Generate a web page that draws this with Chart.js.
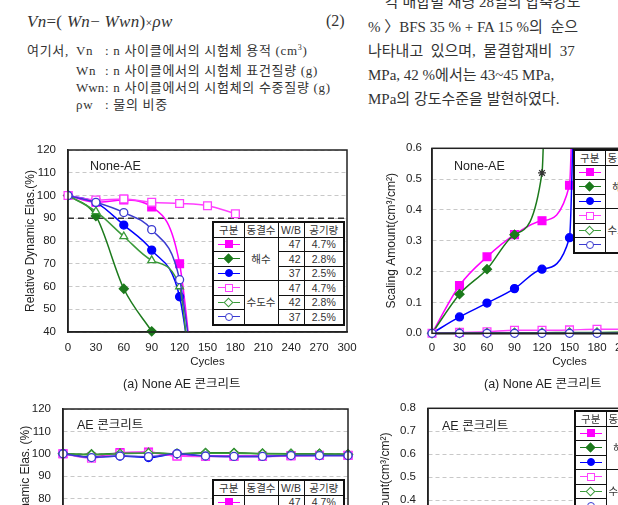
<!DOCTYPE html>
<html>
<head>
<meta charset="utf-8">
<script src="https://cdn.jsdelivr.net/npm/chart.js@4.4.1/dist/chart.umd.min.js"></script>
<style>
html, body { margin: 0; padding: 0; width: 618px; height: 505px; overflow: hidden; background: #fff; }
body { position: relative; }
.t { position: absolute; white-space: nowrap; color: #333; line-height: 1; }
.ser { font-family: 'Liberation Serif', 'Noto Sans CJK KR', serif; }
.row { font-size: 13px; letter-spacing: 0.7px; }
.san { font-family: 'Liberation Sans', 'Noto Sans CJK KR', sans-serif; color: #222; }
.box { position: absolute; width: 360px; height: 240px; }
table.lg { position: absolute; width: 131px; border-collapse: collapse; background: #fff; border: 2px solid #111;
  font: 10.5px 'Liberation Sans', 'Noto Sans CJK KR', sans-serif; color: #333; table-layout: fixed; }
table.lg td, table.lg th { border: 1.3px solid #111; height: 13.5px; padding: 0; text-align: center; font-weight: normal; line-height: 1; white-space: nowrap; overflow: hidden; }
table.lg td.r { text-align: right; padding-right: 3px; }
.mk { position: relative; display: block; height: 13px; }
.mk i { position: absolute; left: 4px; right: 4px; top: 6px; height: 1px; }
.mk b { position: absolute; left: 50%; top: 6.5px; box-sizing: border-box; width: 8px; height: 8px; margin: -4px 0 0 -4px; }
.mk b.ci { border-radius: 50%; }
.mk b.di { width: 7px; height: 7px; margin: -3.5px 0 0 -3.5px; transform: rotate(45deg); }
</style>
</head>
<body>

<!-- text above the figures -->
<div class="t ser" style="left:27px;top:13px;font-size:17px;letter-spacing:0.3px"><i>Vn</i>=( <i>Wn</i>− <i>Wwn</i>)<span style="font-size:12px">×</span><i>ρw</i></div>
<div class="t ser" style="left:326px;top:13px;font-size:16px">(2)</div>

<div class="t ser row" style="left:27px;top:44px">여기서,</div>
<div class="t ser row" style="left:76px;top:44px">Vn</div>
<div class="t ser row" style="left:105px;top:44px">: n 사이클에서의 시험체 용적 (cm<sup style="font-size:8px">3</sup>)</div>
<div class="t ser row" style="left:76px;top:64px">Wn</div>
<div class="t ser row" style="left:105px;top:64px">: n 사이클에서의 시험체 표건질량 (g)</div>
<div class="t ser row" style="left:76px;top:81px;letter-spacing:0">Wwn</div>
<div class="t ser row" style="left:105px;top:81px">: n 사이클에서의 시험체의 수중질량 (g)</div>
<div class="t ser row" style="left:76px;top:98px">ρw</div>
<div class="t ser row" style="left:105px;top:98px">: 물의 비중</div>

<div class="t ser" style="left:385px;top:-5px;font-size:15px">각 배합별 재령 28일의 압축강도</div>
<div class="t ser" style="left:368px;top:20px;font-size:15px">% 〉BFS 35 % + FA 15 %의&nbsp; 순으</div>
<div class="t ser" style="left:368px;top:44px;font-size:15px">나타내고&nbsp; 있으며,&nbsp; 물결합재비&nbsp; 37</div>
<div class="t ser" style="left:368px;top:68px;font-size:15px">MPa, 42 %에서는 43~45 MPa,</div>
<div class="t ser" style="left:368px;top:92px;font-size:15px">MPa의 강도수준을 발현하였다.</div>

<!-- figures -->
<div class="box" style="left:0px;top:140px"><canvas id="c1" width="360" height="240"></canvas></div>
<div class="box" style="left:370px;top:138px"><canvas id="c2" width="360" height="240"></canvas></div>
<div class="box" style="left:0px;top:399px"><canvas id="c3" width="360" height="240"></canvas></div>
<div class="box" style="left:366px;top:398px"><canvas id="c4" width="360" height="240"></canvas></div>

<div class="t san" style="left:90px;top:160px;font-size:12.5px">None-AE</div>
<div class="t san" style="left:454px;top:160px;font-size:12.5px">None-AE</div>
<div class="t san" style="left:77px;top:419px;font-size:12.5px">AE 콘크리트</div>
<div class="t san" style="left:442px;top:420px;font-size:12.5px">AE 콘크리트</div>

<div class="t san" style="left:123px;top:378px;font-size:12.5px">(a) None AE 콘크리트</div>
<div class="t san" style="left:484px;top:378px;font-size:12.5px">(a) None AE 콘크리트</div>

<script>
// freeze-thaw cycles (x axis)
const cycles = [0, 30, 60, 90, 120, 150, 180, 210, 240, 270, 300];

// legend table rows: 구분 / 동결수 / W/B / 공기량
const waterTypes = ['해수', '수도수'];
const wbRatios = ['47', '42', '37'];
const airContents = ['4.7%', '2.8%', '2.5%'];

// (a) None-AE : relative dynamic modulus (%)
const noneRdSea47 = [100, 97, 98, 95, 70];
const noneRdSea42 = [100, 91, 59, 40.3];
const noneRdSea37 = [100, 97, 87, 76, 55.5];
const noneRdTap47 = [100, 98, 98.5, 97, 96.5, 95.5, 92];
const noneRdTap42 = [100, 93, 82, 71.5, 60];
const noneRdTap37 = [100, 97, 92.5, 85, 63];
// where a failed specimen's curve leaves the plot [cycle, value]
const noneRdDrop = [[134, 22], null, [135, 15], null, [132, 18], [135, 20]];
const rdLimit = 90;

// (a) None-AE : scaling amount (cm3/cm2)
const noneScSea47 = [0, 0.155, 0.248, 0.32, 0.365, 0.48];
const noneScSea42 = [0, 0.127, 0.208, 0.32, 0.52];
const noneScSea37 = [0, 0.053, 0.098, 0.145, 0.208, 0.31];
const noneScTap47 = [0, 0.003, 0.005, 0.01, 0.01, 0.011, 0.013, 0.013, 0.014, 0.014, 0.015];
const noneScTap42 = [0, 0.001, 0.001, 0.002, 0.002, 0.003, 0.003, 0.004, 0.004, 0.005, 0.005];
const noneScTap37 = [0, 0, 0, 0, 0, 0, 0, 0, 0, 0, 0];
const noneScDrop = [[158, 1.6], [126, 1.2], [157, 1.1], null, null, null];

// AE concrete : relative dynamic modulus (%)
const aeRdSea47 = [100, 98.5, 100.5, 100.8, 99, 99, 99, 99, 99.2, 99.3, 99.3];
const aeRdSea42 = [100, 99.8, 100.2, 100.5, 100, 100.4, 100.4, 100.1, 100, 100, 99.8];
const aeRdSea37 = [100, 98.5, 99, 98.3, 100, 99, 98.8, 98.8, 99.2, 99.2, 99.2];
const aeRdTap47 = [100, 98, 100.2, 100.3, 99, 98.8, 98.8, 98.8, 99, 99.2, 99.2];
const aeRdTap42 = [100, 99.5, 100, 100.3, 100, 100.2, 100.2, 100, 99.9, 99.9, 99.7];
const aeRdTap37 = [100, 98.3, 99, 98.7, 100, 99, 98.8, 98.8, 99.2, 99.2, 99.2];

// AE concrete : scaling amount (cm3/cm2) - below the visible part of the page
const aeScSea47 = [0, 0.004, 0.01, 0.018, 0.025, 0.03, 0.041, 0.05, 0.056, 0.064, 0.07];
const aeScSea42 = [0, 0.003, 0.008, 0.012, 0.02, 0.026, 0.031, 0.037, 0.044, 0.05, 0.055];
const aeScSea37 = [0, 0.002, 0.005, 0.01, 0.013, 0.018, 0.022, 0.027, 0.031, 0.036, 0.04];
const aeScTap47 = [0, 0.001, 0.002, 0.003, 0.004, 0.005, 0.006, 0.006, 0.007, 0.008, 0.009];
const aeScTap42 = [0, 0.001, 0.001, 0.002, 0.003, 0.003, 0.004, 0.004, 0.005, 0.005, 0.006];
const aeScTap37 = [0, 0, 0.001, 0.001, 0.001, 0.002, 0.002, 0.002, 0.003, 0.003, 0.003];

// marker / line style for sea 47,42,37 then tap 47,42,37
const seriesStyle = [
    { color: '#ff00ff', fill: '#ff00ff', shape: 'rect', css: 'sq', r: 5.5 },
    { color: '#1c7a1c', fill: '#1c7a1c', shape: 'rectRot', css: 'di', r: 4.5 },
    { color: '#0000ff', fill: '#0000ff', shape: 'circle', css: 'ci', r: 4 },
    { color: '#ff40ff', fill: '#ffffff', shape: 'rect', css: 'sq', r: 5.5 },
    { color: '#3a9a3a', fill: '#ffffff', shape: 'rectRot', css: 'di', r: 4.5 },
    { color: '#3a3ad0', fill: '#ffffff', shape: 'circle', css: 'ci', r: 4 },
];

Chart.defaults.font.family = "'Liberation Sans', Arial, sans-serif";
Chart.defaults.font.size = 11.5;
Chart.defaults.color = '#222';
Chart.defaults.animation = false;

// black box round the plot area
const framePlugin = {
    id: 'frame',
    afterDatasetsDraw(chart) {
        const a = chart.chartArea;
        const ctx = chart.ctx;
        ctx.save();
        ctx.strokeStyle = '#222';
        ctx.lineWidth = 1.5;
        ctx.strokeRect(a.left, a.top, a.right - a.left, a.bottom - a.top);
        ctx.restore();
    }
};

function makeSeries(values, drop, i, shape, special) {
    const st = seriesStyle[i];
    const pts = values.map((v, k) => ({ x: cycles[k], y: v }));
    if (drop) pts.push({ x: drop[0], y: drop[1] });
    const ds = {
        data: pts,
        borderColor: st.color,
        backgroundColor: st.fill,
        borderWidth: 1.5,
        pointStyle: pts.map(() => shape || st.shape),
        pointRadius: pts.map((p, k) => k < values.length ? st.r : 0),
        pointBorderColor: pts.map(() => st.color),
        pointBackgroundColor: pts.map(() => st.fill),
        pointBorderWidth: 1.3,
        cubicInterpolationMode: 'monotone',
        order: 10 - i
    };
    if (!drop) ds.clip = false;
    if (special) special(ds);
    return ds;
}

// o.plot = wanted plot box inside the canvas [left, top, right, bottom]
// tick label gaps come from invisible tick marks so they do not push the plot box
function makeChart(id, datasets, o) {
    const [pl, pt, pr, pb] = o.plot;
    new Chart(document.getElementById(id), {
        type: 'line',
        data: { datasets: datasets },
        options: {
            responsive: false,
            layout: { padding: { left: 0, top: pt, right: 360 - pr, bottom: 0 } },
            plugins: { legend: { display: false }, tooltip: { enabled: false } },
            scales: {
                x: {
                    type: 'linear', min: 0, max: 300,
                    ticks: { stepSize: 30, padding: 0 },
                    grid: { color: 'transparent', drawTicks: true, tickLength: o.xGap, tickColor: 'transparent' },
                    border: { color: '#222', width: 1.5 },
                    title: { display: true, text: 'Cycles', font: { size: 11.5 }, padding: { top: 0, bottom: o.xTitlePad } },
                    afterFit(s) { s.height = 240 - pb; }
                },
                y: {
                    min: o.yMin, max: o.yMax,
                    ticks: { stepSize: o.yStep, padding: 0, callback: o.yFmt },
                    grid: { color: '#c8c8c8', drawTicks: true, tickLength: o.yGap, tickColor: 'transparent' },
                    border: { color: '#222', width: 1.5, dash: [4, 3] },
                    title: { display: true, text: o.yTitle, font: { size: 12 }, padding: { top: o.yTitlePad, bottom: 0 } },
                    afterFit(s) { s.width = pl; }
                }
            }
        },
        plugins: [framePlugin]
    });
}

function limitLine(v) {
    return {
        data: [{ x: 0, y: v }, { x: 300, y: v }],
        borderColor: '#333', borderWidth: 1.5, borderDash: [6, 4],
        pointRadius: 0, order: 20
    };
}

const fmt1 = v => v.toFixed(1);

// (a) None-AE relative dynamic modulus
makeChart('c1', [
    makeSeries(noneRdSea47, noneRdDrop[0], 0),
    makeSeries(noneRdSea42, noneRdDrop[1], 1),
    makeSeries(noneRdSea37, noneRdDrop[2], 2),
    makeSeries(noneRdTap47, noneRdDrop[3], 3),
    makeSeries(noneRdTap42, noneRdDrop[4], 4, 'triangle'),
    makeSeries(noneRdTap37, noneRdDrop[5], 5),
    limitLine(rdLimit)
], { plot: [68, 10, 347, 192], xGap: 9, xTitlePad: 11, yMin: 40, yMax: 120, yStep: 10,
     yGap: 12, yTitle: 'Relative Dynamic Elas.(%)', yTitlePad: 23 });

// (a) None-AE scaling; the 42 % sea water point at 120 cycles is drawn as a star
makeChart('c2', [
    makeSeries(noneScSea47, noneScDrop[0], 0),
    makeSeries(noneScSea42, noneScDrop[1], 1, null, ds => {
        ds.pointStyle[4] = 'star';
        ds.pointBorderColor[4] = '#333';
        ds.pointRadius[4] = 4;
    }),
    makeSeries(noneScSea37, noneScDrop[2], 2),
    makeSeries(noneScTap47, noneScDrop[3], 3),
    makeSeries(noneScTap42, noneScDrop[4], 4),
    makeSeries(noneScTap37, noneScDrop[5], 5)
], { plot: [62, 10.3, 337, 195.3], xGap: 8, xTitlePad: 9, yMin: 0, yMax: 0.6, yStep: 0.1,
     yGap: 10, yTitle: 'Scaling Amount(cm³/cm²)', yTitlePad: 14, yFmt: fmt1 });

// AE relative dynamic modulus
makeChart('c3', [
    makeSeries(aeRdSea47, null, 0),
    makeSeries(aeRdSea42, null, 1),
    makeSeries(aeRdSea37, null, 2),
    makeSeries(aeRdTap47, null, 3),
    makeSeries(aeRdTap42, null, 4),
    makeSeries(aeRdTap37, null, 5)
], { plot: [63, 10, 348, 189], xGap: 9, xTitlePad: 11, yMin: 40, yMax: 120, yStep: 10,
     yGap: 12, yTitle: 'Relative Dynamic Elas. (%)', yTitlePad: 18 });

// AE scaling
makeChart('c4', [
    makeSeries(aeScSea47, null, 0),
    makeSeries(aeScSea42, null, 1),
    makeSeries(aeScSea37, null, 2),
    makeSeries(aeScTap47, null, 3),
    makeSeries(aeScTap42, null, 4),
    makeSeries(aeScTap37, null, 5)
], { plot: [62, 10.3, 337, 194.3], xGap: 8, xTitlePad: 9, yMin: 0, yMax: 0.8, yStep: 0.1,
     yGap: 12, yTitle: 'Scaling Amount(cm³/cm²)', yTitlePad: 12, yFmt: fmt1 });

// legend tables
function legendTable(left, top) {
    const tb = document.createElement('table');
    tb.className = 'lg';
    tb.style.left = left + 'px';
    tb.style.top = top + 'px';
    let html = '<colgroup><col style="width:31px"><col style="width:34px"><col style="width:26px"><col style="width:40px"></colgroup>';
    html += '<tr><th>구분</th><th>동결수</th><th>W/B</th><th>공기량</th></tr>';
    seriesStyle.forEach((st, i) => {
        const g = Math.floor(i / 3), k = i % 3;
        const mark = '<span class="mk"><i style="background:' + st.color + '"></i><b class="' + st.css +
            '" style="background:' + st.fill + ';border:1.3px solid ' + st.color + '"></b></span>';
        html += '<tr><td>' + mark + '</td>' +
            (k === 0 ? '<td rowspan="3">' + waterTypes[g] + '</td>' : '') +
            '<td class="r">' + wbRatios[k] + '</td><td>' + airContents[k] + '</td></tr>';
    });
    tb.innerHTML = html;
    document.body.appendChild(tb);
}
legendTable(212, 221);
legendTable(573, 149);
legendTable(212, 479);
legendTable(574, 410);
</script>
</body>
</html>
